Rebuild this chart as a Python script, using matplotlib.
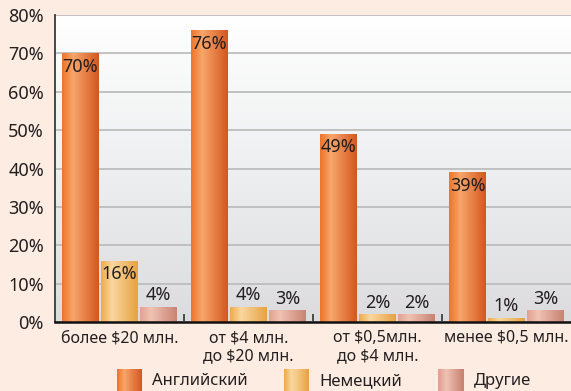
import numpy as np
import matplotlib.pyplot as plt
from matplotlib.colors import LinearSegmentedColormap
from matplotlib.patches import Rectangle
from matplotlib.legend_handler import HandlerBase

# - - - - data - - - -
categories = ['более $20 млн.', 'от $4 млн.\nдо $20 млн.',
              'от $0,5млн.\nдо $4 млн.', 'менее $0,5 млн.']
series_names = ['Английский', 'Немецкий', 'Другие']
english = [70, 76, 49, 39]
german = [16, 4, 2, 1]
other = [4, 3, 2, 3]
yticks = [0, 10, 20, 30, 40, 50, 60, 70, 80]

# - - - - style - - - -
plt.rcParams['font.family'] = ['Noto Sans', 'DejaVu Sans']
fontsize = 12
bg_color = '#fdece2'
bar_cmaps = [
    LinearSegmentedColormap.from_list('en', [(0, '#ef7429'), (0.3, '#f8a66b'), (1, '#d3581f')]),
    LinearSegmentedColormap.from_list('de', [(0, '#eeac4c'), (0.3, '#f9d79f'), (1, '#e8a243')]),
    LinearSegmentedColormap.from_list('ot', [(0, '#e2a392'), (0.3, '#f0c2b3'), (1, '#c88373')]),
]
bar_width = 0.28
bar_gap = 0.022


def gradientFill(ax, patch, cmap):
    x0 = patch.get_x()
    w = patch.get_width()
    h = patch.get_height()
    grad = np.linspace(0, 1, 64).reshape(1, -1)
    im = ax.imshow(grad, cmap=cmap, aspect='auto', extent=[x0, x0 + w, 0, h],
                   zorder=patch.get_zorder() + 0.1, interpolation='bilinear')
    im.set_clip_path(patch)


class GradientHandler(HandlerBase):
    def __init__(self, cmap):
        super().__init__()
        self.cmap = cmap

    def create_artists(self, legend, orig_handle, xdescent, ydescent,
                       width, height, fontsize, trans):
        n = 24
        artists = []
        for i in range(n):
            r = Rectangle((-xdescent + width * i / n, -ydescent - 6), width / n + 0.3,
                          height + 9, facecolor=self.cmap(i / (n - 1)),
                          edgecolor='none', transform=trans)
            artists.append(r)
        return artists


def main():
    fig = plt.figure(figsize=(5.71, 3.91), dpi=100, facecolor=bg_color)
    ax = fig.add_axes([55 / 571, 1 - 322 / 391, 1 - 55 / 571, 307 / 391])
    ax.set_facecolor('white')

    # gray -> white vertical gradient behind the bars
    vgrad = np.linspace(0, 1, 128).reshape(-1, 1)
    bgcmap = LinearSegmentedColormap.from_list('bg', ['#dcdcde', '#eeeff0', '#ffffff'])
    ax.imshow(vgrad, cmap=bgcmap, aspect='auto', extent=[-0.5, 3.5, 80, 0],
              zorder=0, interpolation='bilinear')

    x = np.arange(len(categories))
    data = [english, german, other]
    offsets = [-(bar_width + bar_gap), 0, bar_width + bar_gap]
    handles = []
    for vals, off, cmap, name in zip(data, offsets, bar_cmaps, series_names):
        bars = ax.bar(x + off, vals, bar_width, color=cmap(0.5), zorder=2,
                      label=name, linewidth=0)
        handles.append(bars)
        for b, v in zip(bars, vals):
            gradientFill(ax, b, cmap)
            if v >= 10:
                dy = -9.5
            else:
                dy = 8.5
            ax.annotate(f'{v}%', (b.get_x() + b.get_width() / 2, v),
                        xytext=(0, dy), textcoords='offset points',
                        ha='center', va='center', fontsize=fontsize + 1,
                        color='#231f20', zorder=5)

    ax.set_xlim(-0.5, 3.5)
    ax.set_ylim(0, 80)
    ax.set_yticks(yticks)
    ax.set_yticklabels([f'{t}%' for t in yticks], fontsize=fontsize + 1, color='#231f20')
    ax.yaxis.grid(True, color='#bdbdbd', linewidth=1.3, zorder=1)
    ax.set_axisbelow(True)
    ax.tick_params(axis='y', length=0, pad=8)

    ax.set_xticks(x)
    ax.set_xticklabels(categories, fontsize=fontsize - 0.5, color='#231f20',
                       linespacing=1.15)
    ax.tick_params(axis='x', length=0, pad=6)
    ax.set_xticks([0.5, 1.5, 2.5], minor=True)
    ax.tick_params(axis='x', which='minor', direction='in', length=6,
                   width=1.2, color='#333333')

    ax.spines['top'].set_visible(False)
    ax.spines['right'].set_visible(False)
    ax.spines['left'].set_color('#3a3a3a')
    ax.spines['left'].set_linewidth(1.3)
    ax.spines['bottom'].set_color('#111111')
    ax.spines['bottom'].set_linewidth(1.8)
    ax.spines['bottom'].set_zorder(6)

    hmap = {h: GradientHandler(c) for h, c in zip(handles, bar_cmaps)}
    leg = fig.legend(handles, series_names, loc='center', ncol=3,
                     bbox_to_anchor=(0.567, 0.026), frameon=False,
                     fontsize=fontsize, handlelength=1.5, handletextpad=0.6,
                     columnspacing=2.2, handler_map=hmap)
    for t in leg.get_texts():
        t.set_color('#231f20')

    fig.savefig('out.png', dpi=100, facecolor=bg_color)


if __name__ == '__main__':
    main()
